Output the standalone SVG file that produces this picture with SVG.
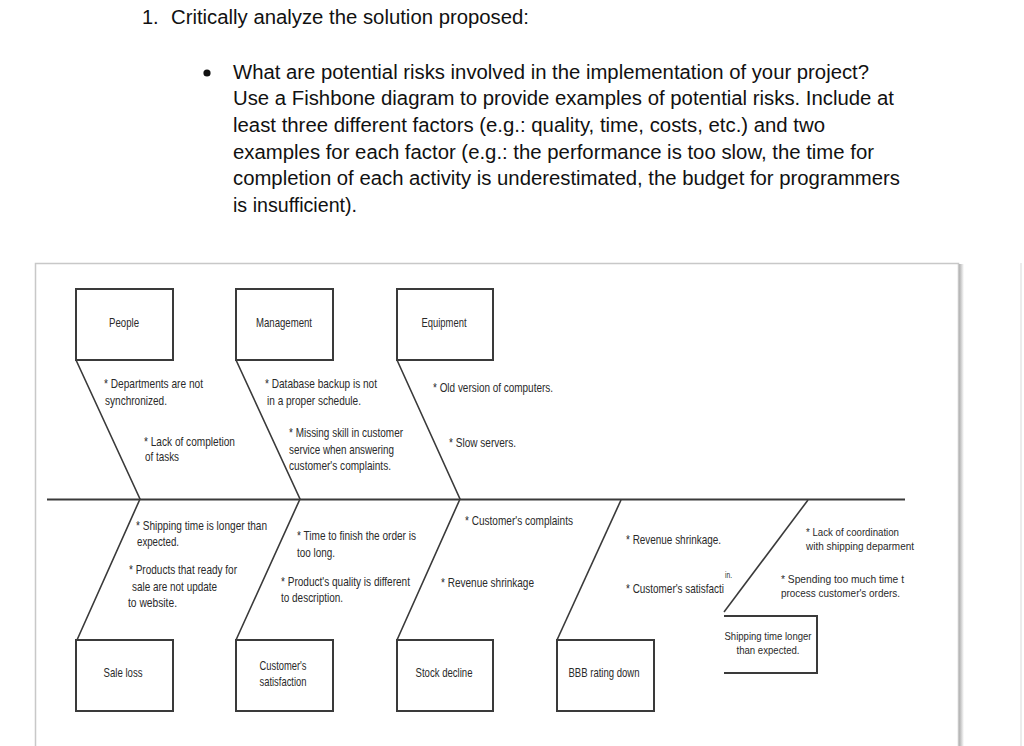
<svg xmlns="http://www.w3.org/2000/svg" width="1024" height="746" viewBox="0 0 1024 746">
<style>
.q{font-family:"Liberation Sans",Arial,sans-serif;font-size:20px;fill:#111}
.t{font-family:"Liberation Sans",Arial,sans-serif;font-size:13px;fill:#2a2a2a}
.s{font-family:"Liberation Sans",Arial,sans-serif;font-size:11px;fill:#2a2a2a}
.m{text-anchor:middle}
.box{fill:#fff;stroke:#3a3a3a;stroke-width:2}
.bone{fill:none;stroke:#3a3a3a;stroke-width:1.6}
</style>
<defs>
<linearGradient id="sh" x1="0" x2="1" y1="0" y2="0">
<stop offset="0" stop-color="#aaa"/>
<stop offset="1" stop-color="#fff"/>
</linearGradient>
</defs>
<rect width="1024" height="746" fill="#fff"/>
<g id="question">
<text class="q" x="142" y="24">1.</text>
<text class="q" x="171" y="24" textLength="358" lengthAdjust="spacingAndGlyphs">Critically analyze the solution proposed:</text>
<circle cx="207" cy="73" r="3.6" fill="#111"/>
<text class="q" x="233" y="79" textLength="636" lengthAdjust="spacingAndGlyphs">What are potential risks involved in the implementation of your project?</text>
<text class="q" x="233" y="105" textLength="661" lengthAdjust="spacingAndGlyphs">Use a Fishbone diagram to provide examples of potential risks. Include at</text>
<text class="q" x="233" y="132" textLength="592" lengthAdjust="spacingAndGlyphs">least three different factors (e.g.: quality, time, costs, etc.) and two</text>
<text class="q" x="233" y="159" textLength="641" lengthAdjust="spacingAndGlyphs">examples for each factor (e.g.: the performance is too slow, the time for</text>
<text class="q" x="233" y="185" textLength="667" lengthAdjust="spacingAndGlyphs">completion of each activity is underestimated, the budget for programmers</text>
<text class="q" x="233" y="212" textLength="124" lengthAdjust="spacingAndGlyphs">is insufficient).</text>
</g>
<g id="frame">
<rect x="959" y="264" width="5" height="490" fill="url(#sh)"/>
<rect x="35.5" y="263.5" width="923" height="500" fill="#fff" stroke="#c8c8c8" stroke-width="1.5"/>
<line x1="1021" y1="263" x2="1021" y2="746" stroke="#e6e6e6" stroke-width="1.5"/>
</g>
<g id="connectors">
<line class="bone" x1="47" y1="499.5" x2="905" y2="499.5" style="stroke-width:2"/>
<polyline class="bone" points="76,360 140,499 77,640"/>
<polyline class="bone" points="236,360 300,499 236,640"/>
<polyline class="bone" points="397,360 460,499 397,640"/>
<polyline class="bone" points="621,500 557,640"/>
<polyline class="bone" points="808,500 724,612"/>
</g>
<g id="people">
<rect class="box" x="76" y="289" width="97" height="71"/>
<text class="t m" x="124" y="327" textLength="30" lengthAdjust="spacingAndGlyphs">People</text>
<text class="t" x="104" y="388" textLength="99" lengthAdjust="spacingAndGlyphs">* Departments are not</text>
<text class="t" x="105" y="405" textLength="62" lengthAdjust="spacingAndGlyphs">synchronized.</text>
<text class="t" x="144" y="446" textLength="91" lengthAdjust="spacingAndGlyphs">* Lack of completion</text>
<text class="t" x="145" y="461" textLength="34" lengthAdjust="spacingAndGlyphs">of tasks</text>
</g>
<g id="management">
<rect class="box" x="236" y="289" width="97" height="71"/>
<text class="t m" x="284" y="327" textLength="56" lengthAdjust="spacingAndGlyphs">Management</text>
<text class="t" x="265" y="388" textLength="112" lengthAdjust="spacingAndGlyphs">* Database backup is not</text>
<text class="t" x="267" y="405" textLength="94" lengthAdjust="spacingAndGlyphs">in a proper schedule.</text>
<text class="t" x="289" y="437" textLength="114" lengthAdjust="spacingAndGlyphs">* Missing skill in customer</text>
<text class="t" x="289" y="454" textLength="105" lengthAdjust="spacingAndGlyphs">service when answering</text>
<text class="t" x="289" y="470" textLength="102" lengthAdjust="spacingAndGlyphs">customer's complaints.</text>
</g>
<g id="equipment">
<rect class="box" x="397" y="289" width="96" height="71"/>
<text class="t m" x="444" y="327" textLength="45" lengthAdjust="spacingAndGlyphs">Equipment</text>
<text class="t" x="433" y="392" textLength="120" lengthAdjust="spacingAndGlyphs">* Old version of computers.</text>
<text class="t" x="449" y="447" textLength="67" lengthAdjust="spacingAndGlyphs">* Slow servers.</text>
</g>
<g id="sale-loss">
<rect class="box" x="76" y="640" width="97" height="71"/>
<text class="t m" x="123" y="677" textLength="39" lengthAdjust="spacingAndGlyphs">Sale loss</text>
<text class="t" x="136" y="530" textLength="131" lengthAdjust="spacingAndGlyphs">* Shipping time is longer than</text>
<text class="t" x="137" y="546" textLength="42" lengthAdjust="spacingAndGlyphs">expected.</text>
<text class="t" x="129" y="574" textLength="108" lengthAdjust="spacingAndGlyphs">* Products that ready for</text>
<text class="t" x="132" y="591" textLength="85" lengthAdjust="spacingAndGlyphs">sale are not update</text>
<text class="t" x="128" y="607" textLength="49" lengthAdjust="spacingAndGlyphs">to website.</text>
</g>
<g id="customer-satisfaction">
<rect class="box" x="236" y="640" width="97" height="71"/>
<text class="t m" x="283" y="670" textLength="47" lengthAdjust="spacingAndGlyphs">Customer's</text>
<text class="t m" x="283" y="686" textLength="47" lengthAdjust="spacingAndGlyphs">satisfaction</text>
<text class="t" x="297" y="540" textLength="119" lengthAdjust="spacingAndGlyphs">* Time to finish the order is</text>
<text class="t" x="297" y="557" textLength="38" lengthAdjust="spacingAndGlyphs">too long.</text>
<text class="t" x="281" y="586" textLength="129" lengthAdjust="spacingAndGlyphs">* Product's quality is different</text>
<text class="t" x="281" y="602" textLength="62" lengthAdjust="spacingAndGlyphs">to description.</text>
</g>
<g id="stock-decline">
<rect class="box" x="397" y="640" width="96" height="71"/>
<text class="t m" x="444" y="677" textLength="57" lengthAdjust="spacingAndGlyphs">Stock decline</text>
<text class="t" x="465" y="525" textLength="108" lengthAdjust="spacingAndGlyphs">* Customer's complaints</text>
<text class="t" x="441" y="587" textLength="93" lengthAdjust="spacingAndGlyphs">* Revenue shrinkage</text>
</g>
<g id="bbb-rating">
<rect class="box" x="557" y="640" width="97" height="71"/>
<text class="t m" x="604" y="677" textLength="71" lengthAdjust="spacingAndGlyphs">BBB rating down</text>
<text class="t" x="626" y="544" textLength="95" lengthAdjust="spacingAndGlyphs">* Revenue shrinkage.</text>
<text class="t" x="626" y="593" textLength="98" lengthAdjust="spacingAndGlyphs">* Customer's satisfacti</text>
<text class="s" x="725" y="578" textLength="7" lengthAdjust="spacingAndGlyphs" style="font-size:9px">in.</text>
</g>
<g id="shipping-time">
<path d="M724,616 H817 V673 H724" fill="none" stroke="#3a3a3a" stroke-width="2"/>
<text class="s m" x="768" y="640" textLength="87" lengthAdjust="spacingAndGlyphs">Shipping time longer</text>
<text class="s m" x="768" y="654" textLength="63" lengthAdjust="spacingAndGlyphs">than expected.</text>
<text class="s" x="806" y="536" textLength="93" lengthAdjust="spacingAndGlyphs">* Lack of coordination</text>
<text class="s" x="806" y="550" textLength="108" lengthAdjust="spacingAndGlyphs">with shipping deparment</text>
<text class="s" x="781" y="583" textLength="123" lengthAdjust="spacingAndGlyphs">* Spending too much time t</text>
<text class="s" x="781" y="597" textLength="119" lengthAdjust="spacingAndGlyphs">process customer's orders.</text>
</g>
</svg>
